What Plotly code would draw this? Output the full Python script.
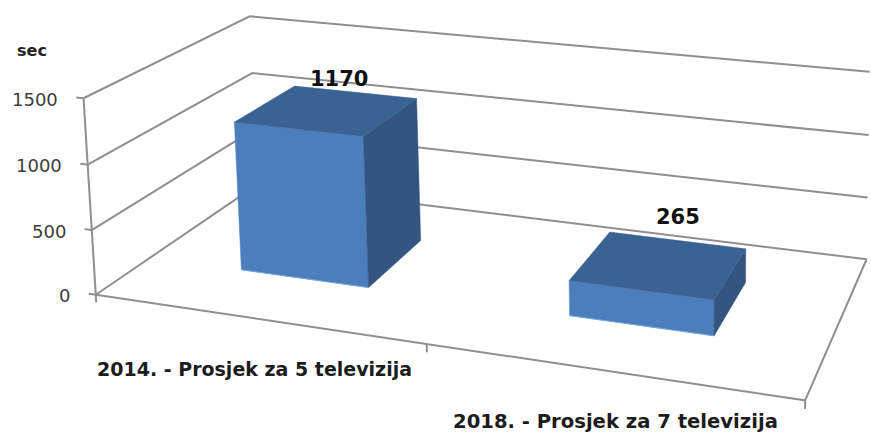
import numpy as np
import plotly.graph_objects as go

WIDTH, HEIGHT = 871, 434

# ── Data ──────────────────────────────────────────────────────────────────────
categories = ["2014. - Prosjek za 5 televizija", "2018. - Prosjek za 7 televizija"]
values = [1170, 265]
value_labels = ["1170", "265"]
y_ticks = [0, 500, 1000, 1500]
y_title = "sec"

# ── Perspective of the chart box (category, depth, value share) -> page pixels ─
CAMERA = np.array([
    [313.905, 213.811, -14.3359, 255.837],
    [28.5176, -79.9744, -204.835, 318.558],
    [-0.0649632, 0.182722, -0.02025, 1.0],
])
Y_MAX = 1500
BAR_HALF = 0.2013
BAR_FRONT, BAR_BACK = 0.3058, 0.7021
X_LO, X_HI = -0.5, 1.5

GRID = "#8f8f8f"
FRONT, TOP, SIDE, RIM = "#4c7ebc", "#3a6394", "#33557f", "#6fa5e0"
VALUE_SHIFT = [(-16, 13), (1, 23)]
CATEGORY_SHIFT = [-1, 6]
CATEGORY_SIZE = [19, 19.6]


def proj(x, depth, val):
    """Category position, depth 0..1 and value -> pixel position."""
    h = CAMERA @ np.array([x, depth, val / Y_MAX, 1.0])
    return h[0] / h[2], h[1] / h[2]


def add_path(fig, pts, color, width=2):
    xs, ys = zip(*[proj(*p) for p in pts])
    fig.add_trace(go.Scatter(x=xs, y=ys, mode="lines", line=dict(color=color, width=width), hoverinfo="skip"))


def add_face(fig, pts, color):
    xs, ys = zip(*[proj(*p) for p in pts + pts[:1]])
    fig.add_trace(go.Scatter(x=xs, y=ys, mode="lines", fill="toself", fillcolor=color,
                             line=dict(color=color, width=0.5), hoverinfo="skip"))


fig = go.Figure()

# walls and floor
for t in y_ticks:
    add_path(fig, [(X_LO, 0, t), (X_LO, 1, t), (X_HI, 1, t)], GRID)
    add_path(fig, [(X_LO - 0.023, 0, t), (X_LO, 0, t)], GRID)
add_path(fig, [(X_LO, 0, 0), (X_LO, 0, Y_MAX)], GRID)
add_path(fig, [(X_LO, 0, 0), (X_HI, 0, 0), (X_HI, 1, 0)], GRID)
for x in (X_LO, 0.5, X_HI):
    add_path(fig, [(x, 0, 0), (x, 0, -Y_MAX * 0.04)], GRID)

# bars
for i, v in enumerate(values):
    l, r = i - BAR_HALF, i + BAR_HALF
    add_face(fig, [(l, BAR_FRONT, 0), (r, BAR_FRONT, 0), (r, BAR_FRONT, v), (l, BAR_FRONT, v)], FRONT)
    add_face(fig, [(r, BAR_FRONT, 0), (r, BAR_BACK, 0), (r, BAR_BACK, v), (r, BAR_FRONT, v)], SIDE)
    add_face(fig, [(l, BAR_FRONT, v), (r, BAR_FRONT, v), (r, BAR_BACK, v), (l, BAR_BACK, v)], TOP)
    add_path(fig, [(l, BAR_FRONT, 0), (r, BAR_FRONT, 0)], RIM, width=1)

# text
notes = []
for t in y_ticks:
    px, py = proj(X_LO, 0, t)
    notes.append(dict(x=px, y=py, text=str(t), xanchor="right", xshift=-24, yshift=-1,
                      font=dict(family="DejaVu Sans", size=18, color="#3c3c3c")))
for i, name in enumerate(categories):
    px, py = proj(i, 0, 0)
    notes.append(dict(x=px, y=py, text=name, yshift=-50, xshift=CATEGORY_SHIFT[i],
                      font=dict(family="DejaVu Sans", size=CATEGORY_SIZE[i], color="#1c1c1c", weight="bold")))
for i, v in enumerate(values):
    px, py = proj(i, BAR_BACK, v)
    notes.append(dict(x=px, y=py, text=value_labels[i], xshift=VALUE_SHIFT[i][0], yshift=VALUE_SHIFT[i][1],
                      font=dict(family="DejaVu Sans", size=21, color="#111111", weight="bold")))
notes.append(dict(x=32, y=50, text=y_title, font=dict(family="DejaVu Sans", size=16, color="#222222", weight="bold")))
for n in notes:
    n.update(showarrow=False, xref="x", yref="y")

fig.update_layout(
    width=WIDTH, height=HEIGHT, margin=dict(l=0, r=0, t=0, b=0),
    paper_bgcolor="white", plot_bgcolor="white", showlegend=False,
    xaxis=dict(range=[0, WIDTH], visible=False),
    yaxis=dict(range=[HEIGHT, 0], visible=False),
    annotations=notes,
)
fig.write_html("out.html", config=dict(displayModeBar=False),
               post_script="document.body.style.margin='0';")
